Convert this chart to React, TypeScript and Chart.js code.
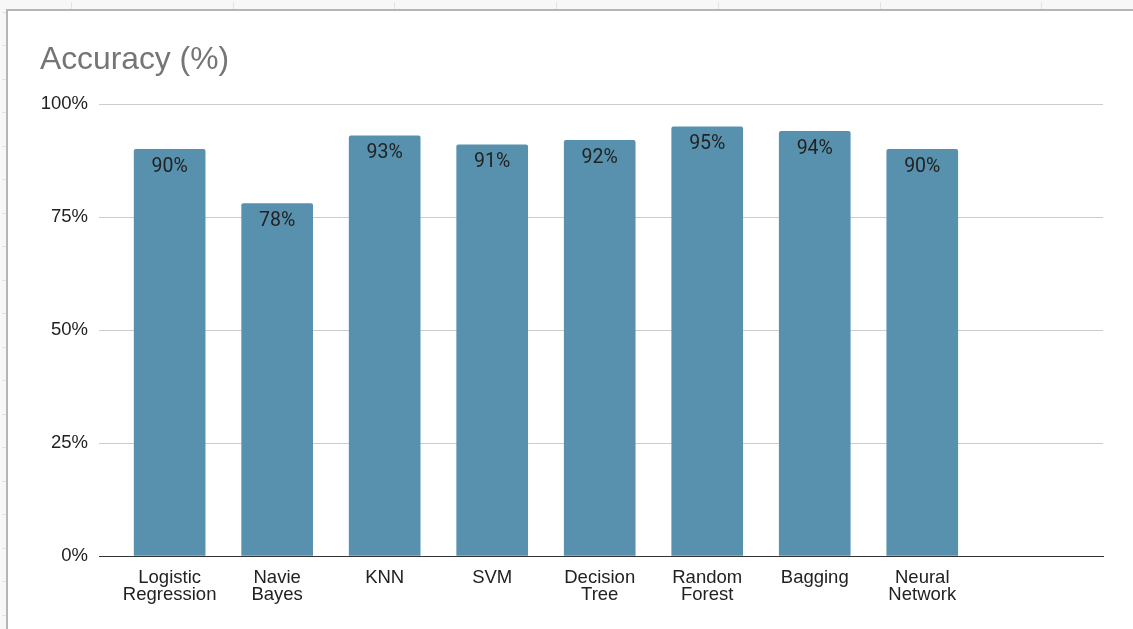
import { useEffect, useRef } from "react";
import { Chart, registerables } from "chart.js";

Chart.register(...registerables);

// Model names (multi-line tick labels) and their accuracy scores in percent
const CATEGORIES: string[][] = [
  ["Logistic", "Regression"],
  ["Navie", "Bayes"],
  ["KNN"],
  ["SVM"],
  ["Decision", "Tree"],
  ["Random", "Forest"],
  ["Bagging"],
  ["Neural", "Network"],
];
const ACCURACY: number[] = [90, 78, 93, 91, 92, 95, 94, 90];
const Y_TICKS: number[] = [0, 25, 50, 75, 100];
const TITLE = "Accuracy (%)";

const AXIS_FONT = "'Liberation Sans', Arial, sans-serif";
const BAR_COLOR = "#5891ad";

// Prints each bar's value just inside its top edge
const valueLabels = {
  id: "valueLabels",
  afterDatasetsDraw(chart: any) {
    const { ctx } = chart;
    const meta = chart.getDatasetMeta(0);
    ctx.save();
    ctx.font = "19.5px Roboto, 'Liberation Sans', sans-serif";
    ctx.fillStyle = "#222222";
    ctx.textAlign = "center";
    ctx.textBaseline = "alphabetic";
    meta.data.forEach((bar: any, i: number) => {
      ctx.fillText(`${ACCURACY[i]}%`, bar.x, bar.y + 22.5);
    });
    ctx.restore();
  },
};

function SheetBackdrop() {
  const cols = Array.from({ length: 7 }, (_, i) => 71 + i * 161.7);
  const rows = Array.from({ length: 19 }, (_, i) => 11.5 + i * 33.5);
  return (
    <>
      {cols.map((x, i) => (
        <div
          key={"c" + i}
          style={{ position: "absolute", left: x, top: 2, width: 1, height: 7, background: "#e2e2e2" }}
        />
      ))}
      {rows.map((y, i) => (
        <div
          key={"r" + i}
          style={{ position: "absolute", left: 2, top: y, width: 4, height: 1, background: "#e2e2e2" }}
        />
      ))}
    </>
  );
}

export default function App() {
  const canvasRef = useRef<HTMLCanvasElement | null>(null);

  useEffect(() => {
    const canvas = canvasRef.current;
    if (!canvas) return;
    const chart = new Chart(canvas, {
      type: "bar",
      data: {
        datasets: [
          {
            label: TITLE,
            data: ACCURACY.map((v, i) => ({ x: i, y: v })),
            backgroundColor: BAR_COLOR,
            borderWidth: 0,
            borderRadius: { topLeft: 2, topRight: 2, bottomLeft: 0, bottomRight: 0 },
            borderSkipped: "start",
            barThickness: 71,
          },
        ],
      },
      options: {
        responsive: false,
        animation: false,
        layout: { padding: { left: 40, right: 30, top: 0, bottom: 0 } },
        plugins: {
          legend: { display: false },
          tooltip: { enabled: false },
          title: {
            display: true,
            text: TITLE,
            align: "start",
            color: "#757575",
            font: { family: AXIS_FONT, size: 31.8, weight: "normal", lineHeight: 1.2 },
            padding: { top: 41, bottom: 25 },
          },
        },
        scales: {
          x: {
            type: "linear",
            min: -0.657,
            max: 8.681,
            offset: false,
            grid: { display: false },
            border: { display: true, color: "#333333", width: 1 },
            afterBuildTicks: (scale: any) => {
              scale.ticks = CATEGORIES.map((_, i) => ({ value: i }));
            },
            afterFit: (scale: any) => {
              scale.height = 73;
            },
            ticks: {
              autoSkip: false,
              maxRotation: 0,
              minRotation: 0,
              padding: 5,
              color: "#222222",
              font: { family: AXIS_FONT, size: 18.5, lineHeight: 0.95 },
              callback: (value: any) => CATEGORIES[value as number] ?? "",
            },
          },
          y: {
            min: 0,
            max: 100,
            border: { display: false },
            grid: {
              drawTicks: false,
              color: (c: any) => (c.tick && c.tick.value === 0 ? "#333333" : "#cccccc"),
              lineWidth: 1,
            },
            afterBuildTicks: (scale: any) => {
              scale.ticks = Y_TICKS.map((v) => ({ value: v }));
            },
            afterFit: (scale: any) => {
              scale.width = 59;
            },
            ticks: {
              padding: 11,
              color: "#222222",
              font: { family: AXIS_FONT, size: 18.5 },
              callback: (value: any) => `${value}%`,
            },
          },
        },
      },
      plugins: [valueLabels],
    });
    return () => chart.destroy();
  }, []);

  return (
    <div
      style={{
        position: "fixed",
        left: 0,
        top: 0,
        width: 1133,
        height: 629,
        overflow: "hidden",
        background: "#f7f7f7",
      }}
    >
      <SheetBackdrop />
      <div
        style={{
          position: "absolute",
          left: 6,
          top: 9,
          width: 1200,
          height: 700,
          background: "#ffffff",
          borderTop: "2px solid #b5b5b5",
          borderLeft: "2px solid #b5b5b5",
        }}
      />
      <canvas
        ref={canvasRef}
        width={1133}
        height={629}
        style={{ position: "absolute", left: 0, top: 0, width: 1133, height: 629 }}
      />
    </div>
  );
}
